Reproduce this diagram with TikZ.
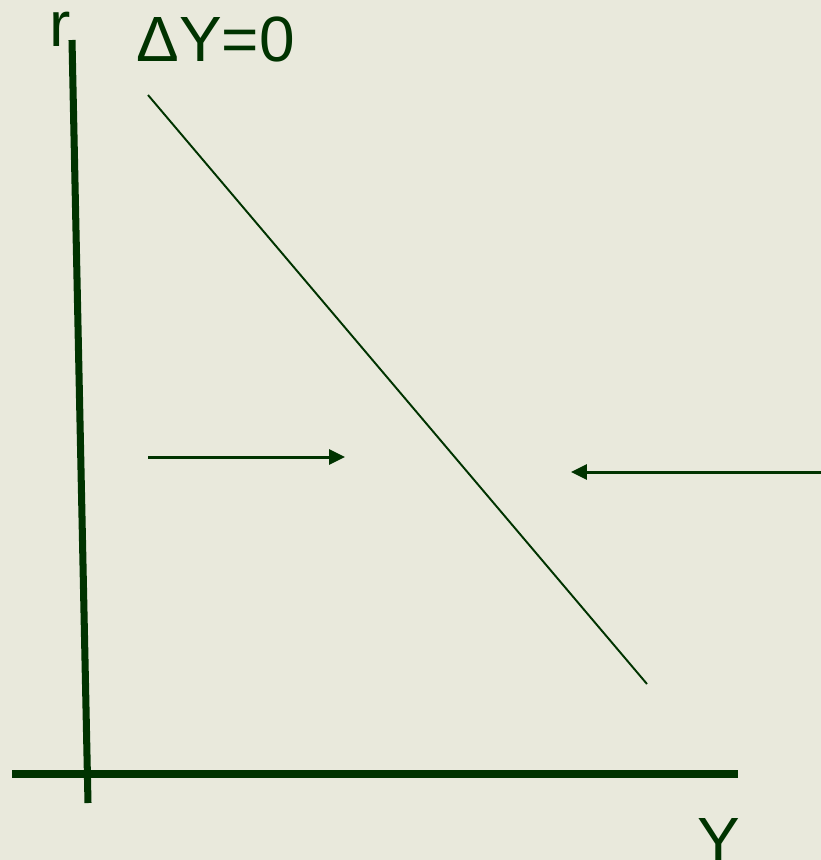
\documentclass[tikz,border=0pt]{standalone}
\usepackage{fontspec}
\setmainfont{Liberation Sans}
\usetikzlibrary{arrows.meta}
\definecolor{paper}{HTML}{E9E9DC}
\definecolor{ink}{HTML}{003300}
\tikzset{every path/.style={ink},
  axis/.style={line width=4pt},
  curve/.style={line width=1.1pt},
  shift arrow/.style={line width=1.7pt,-{Triangle[length=0.32cm,width=0.3cm]}},
  lbl/.style={text=ink,inner sep=0pt,anchor=base west,font=\fontsize{36.4}{40}\selectfont}}

\begin{document}
\begin{tikzpicture}[x=0.02cm,y=-0.02cm]
    \fill[paper] (0,0) rectangle (821,860);
    \useasboundingbox (0,0) rectangle (821,860);

    % axes
    \coordinate (rtop) at (72,40);
    \coordinate (rbot) at (88,803);
    \coordinate (yleft) at (12,774);
    \coordinate (yright) at (738,774);
    \draw[axis] (rtop) -- (rbot);
    \draw[axis] (yleft) -- (yright);
    \node[lbl] (rlab) at (49,46) {r};
    \node[lbl] (ylab) at (697,862) {Y};

    % the locus
    \coordinate (ltop) at (148,95);
    \coordinate (lbot) at (647,684);
    \draw[curve] (ltop) -- (lbot);
    \node[lbl] (locus) at (136,61) {ΔY=0};

    % arrows towards the locus
    \coordinate (a1) at (148,457);
    \coordinate (a1e) at (345,457);
    \coordinate (a2) at (821,472);
    \coordinate (a2e) at (571,472);
    \draw[shift arrow] (a1) -- (a1e);
    \draw[shift arrow] (a2) -- (a2e);
  \end{tikzpicture}
\end{document}
